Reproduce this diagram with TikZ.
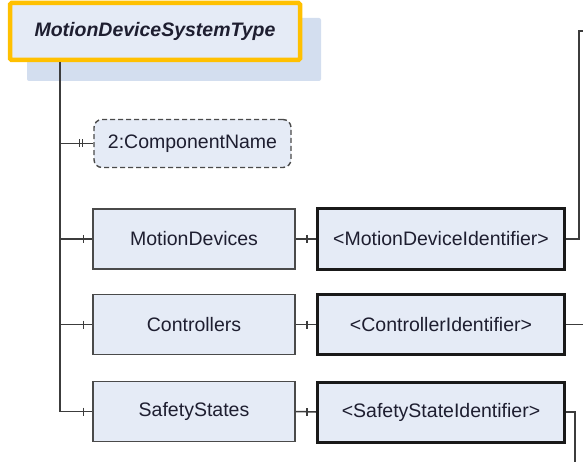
\documentclass[tikz,border=0pt]{standalone}
\usepackage{fontspec}
\setmainfont{Liberation Sans}
\definecolor{boxfill}{HTML}{E5EBF6}
\definecolor{shadowfill}{HTML}{D3DEEF}
\definecolor{frameline}{HTML}{4A4A4A}
\definecolor{linkline}{HTML}{3C3C3C}
\definecolor{typeframe}{HTML}{FFC000}
\definecolor{labeltext}{HTML}{1E1E30}
\begin{document}
\begin{tikzpicture}[x=1pt,y=-1pt,
  every node/.style={font=\fontsize{19.5}{23}\selectfont, text=labeltext, inner sep=0pt},
  objbox/.style={draw=frameline, line width=1.5pt, fill=boxfill, minimum width=202pt, minimum height=60pt},
  idbox/.style={draw=black!90, line width=3pt, fill=boxfill, minimum width=247pt, minimum height=60pt},
  propbox/.style={draw=frameline, line width=1.4pt, dash pattern=on 5pt off 3pt, rounded corners=8pt, fill=boxfill, minimum width=197pt, minimum height=48pt},
  link/.style={draw=linkline, line width=1.5pt},
  tick/.style={draw=linkline, line width=1.2pt},
  typebox/.style={draw=typeframe, line width=4.5pt, fill=boxfill, rounded corners=1.5pt, minimum width=290pt, minimum height=57pt, font=\fontsize{19.5}{23}\selectfont\bfseries\itshape}
]
\useasboundingbox (0,0) rectangle (583,462);

% type node with its offset shadow
\fill[shadowfill, rounded corners=2pt] (27,18) rectangle (321,81);
\node[typebox] (type) at (155,31.5) {MotionDeviceSystemType};

% children
\node[propbox] (cn) at (192.5,143.5) {2:ComponentName};
\node[objbox] (md) at (194,239) {MotionDevices};
\node[objbox] (ct) at (194,324.5) {Controllers};
\node[objbox] (ss) at (194,411.5) {SafetyStates};

\node[idbox] (mdi) at (441,239) {<MotionDeviceIdentifier>};
\node[idbox] (cti) at (441,324.5) {<ControllerIdentifier>};
\node[idbox] (ssi) at (441,412) {<SafetyStateIdentifier>};

% trunk from the type node
\coordinate (t0) at (60,62);
\draw[link] (t0) |- (ss.west);
\draw[link] (cn.west) -- (cn.west -| t0);
\draw[link] (md.west) -- (md.west -| t0);
\draw[link] (ct.west) -- (ct.west -| t0);

% reference ticks
\draw[tick] ([xshift=-14pt]cn.west) ++(0,-4) -- ++(0,8);
\draw[tick] ([xshift=-10.5pt]cn.west) ++(0,-4) -- ++(0,8);
\foreach \n in {md,ct,ss,mdi,cti,ssi}{
  \draw[tick] ([xshift=-9pt]\n.west) ++(0,-4) -- ++(0,8);
}

% object to identifier links
\draw[link] (md.east) -- (mdi.west);
\draw[link] (ct.east) -- (cti.west);
\draw[link] (ss.east) -- (ssi.west);

% outgoing links on the right
\coordinate (r1) at (584,31);
\coordinate (r2) at (584,324.5);
\coordinate (r3) at (575,463);
\draw[link] (mdi.east) -| (579,31) -- (r1);
\draw[link] (cti.east) -- (r2);
\draw[link] (ssi.east) -| (r3);
\end{tikzpicture}
\end{document}
